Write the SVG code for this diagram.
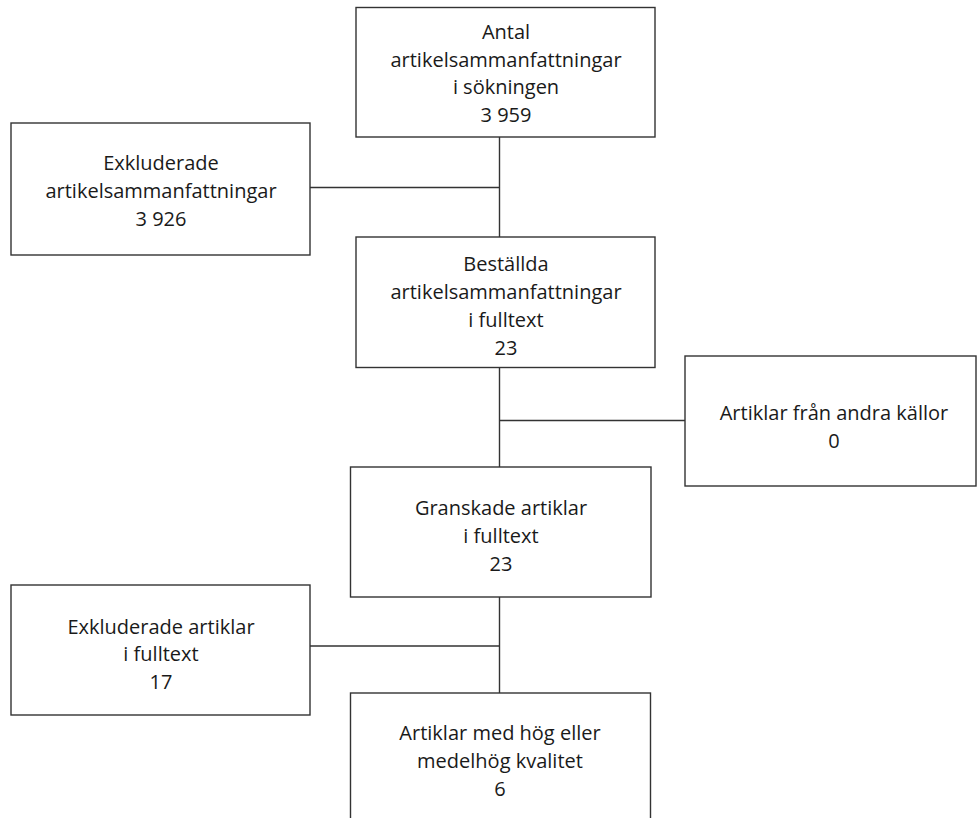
<svg xmlns="http://www.w3.org/2000/svg" width="977" height="818" viewBox="0 0 977 818">
<style>
.box{fill:#fff;stroke:#333;stroke-width:1.4}
.ln{fill:none;stroke:#333;stroke-width:1.4}
text{font-family:"Open Sans","Liberation Sans",sans-serif;font-size:20px;fill:#1a1a1a;text-anchor:middle}
</style>
<rect width="977" height="818" fill="#fff"/>
<g id="connectors">
<path class="ln" d="M499.5 137V237M310 187.5H499.5M499.5 367V467M499.5 420.5H685M499.5 597V693M310 646H499.5"/>
</g>
<g id="n1">
<rect class="box" x="356" y="7.5" width="299" height="129.5"/>
<text x="506" y="39">Antal</text>
<text x="506" y="66.5">artikelsammanfattningar</text>
<text x="506" y="94">i sökningen</text>
<text x="506" y="121.5">3 959</text>
</g>
<g id="n2">
<rect class="box" x="11" y="123" width="299" height="132"/>
<text x="161" y="170">Exkluderade</text>
<text x="161" y="198">artikelsammanfattningar</text>
<text x="161" y="226">3 926</text>
</g>
<g id="n3">
<rect class="box" x="356" y="237" width="299" height="130.5"/>
<text x="506" y="270.5">Beställda</text>
<text x="506" y="298.5">artikelsammanfattningar</text>
<text x="506" y="326.5">i fulltext</text>
<text x="506" y="355">23</text>
</g>
<g id="n4">
<rect class="box" x="685" y="356" width="291" height="130"/>
<text x="834" y="419.5">Artiklar från andra källor</text>
<text x="834" y="447.5">0</text>
</g>
<g id="n5">
<rect class="box" x="350.5" y="467" width="300.5" height="130"/>
<text x="501" y="514.5">Granskade artiklar</text>
<text x="501" y="542.5">i fulltext</text>
<text x="501" y="571">23</text>
</g>
<g id="n6">
<rect class="box" x="11" y="585" width="299" height="130"/>
<text x="161" y="633.5">Exkluderade artiklar</text>
<text x="161" y="661">i fulltext</text>
<text x="161" y="689">17</text>
</g>
<g id="n7">
<rect class="box" x="350.5" y="693" width="300" height="140"/>
<text x="500" y="740">Artiklar med hög eller</text>
<text x="500" y="768">medelhög kvalitet</text>
<text x="500" y="796">6</text>
</g>
</svg>
